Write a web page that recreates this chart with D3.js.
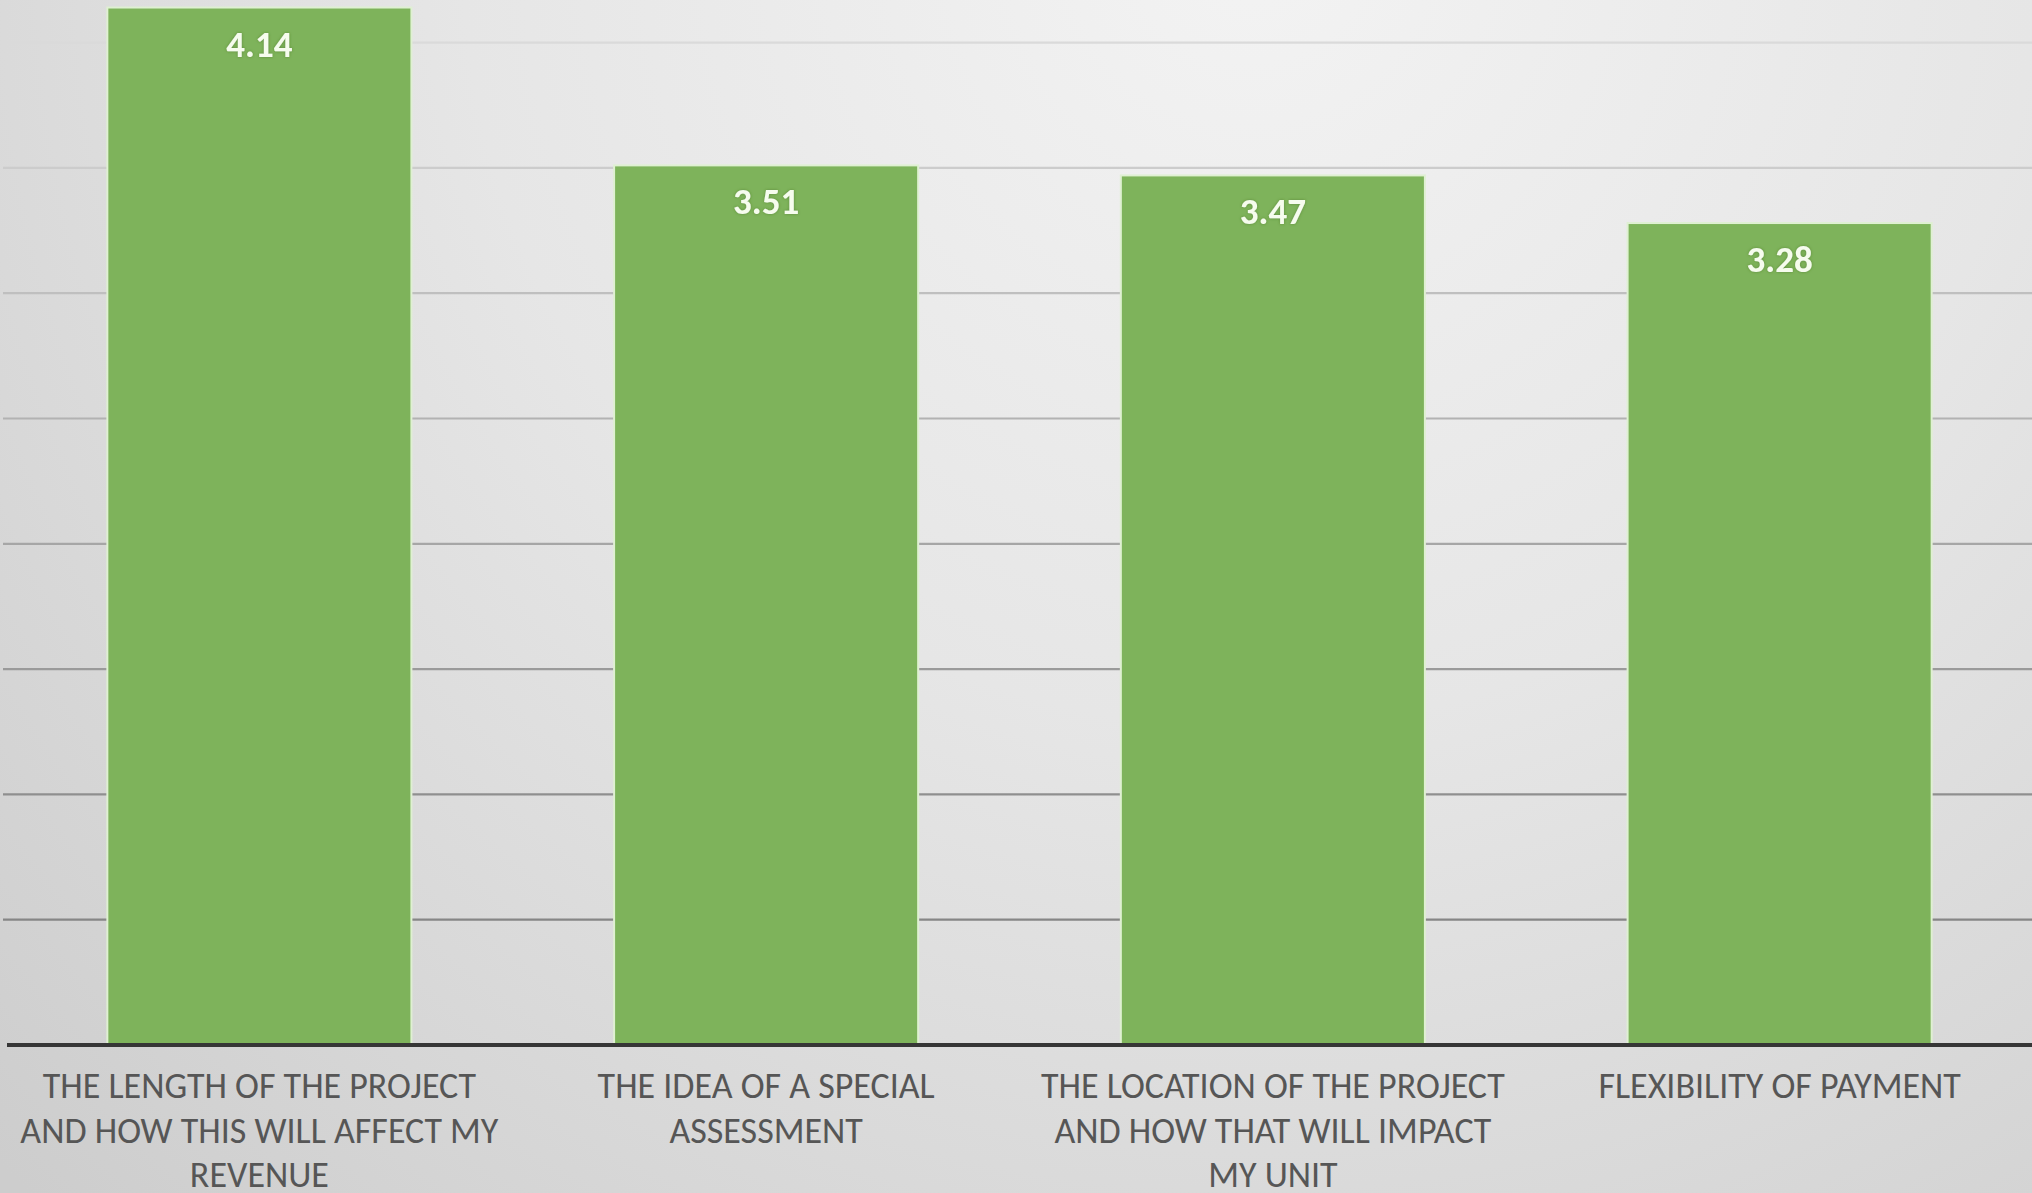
<!DOCTYPE html>
<html>
<head>
<meta charset="utf-8">
<script src="https://cdn.jsdelivr.net/npm/d3@7"></script>
<style>
  html, body { margin: 0; padding: 0; overflow: hidden; background: #dcdcdc; }
  svg { display: block; }
</style>
</head>
<body>
<svg id="chart" width="2032" height="1193"></svg>
<script>
// Survey concerns, mean rating per item
const categories = [
  "THE LENGTH OF THE PROJECT AND HOW THIS WILL AFFECT MY REVENUE",
  "THE IDEA OF A SPECIAL ASSESSMENT",
  "THE LOCATION OF THE PROJECT AND HOW THAT WILL IMPACT MY UNIT",
  "FLEXIBILITY OF PAYMENT"
];
const values = [4.14, 3.51, 3.47, 3.28];
const gridTicks = [0.5, 1, 1.5, 2, 2.5, 3, 3.5, 4];

const W = 2032, H = 1193;
const baseY = 1045;
const labelFont = "Calibri, Carlito, 'Liberation Sans Narrow', 'Open Sans', sans-serif";

const svg = d3.select("#chart");
const defs = svg.append("defs");

// soft studio-style background
const bg = defs.append("radialGradient")
  .attr("id", "bg").attr("gradientUnits", "userSpaceOnUse")
  .attr("cx", 1250).attr("cy", -60).attr("r", 1750);
bg.append("stop").attr("offset", "0%").attr("stop-color", "#f3f3f3");
bg.append("stop").attr("offset", "45%").attr("stop-color", "#e6e6e6");
bg.append("stop").attr("offset", "100%").attr("stop-color", "#cdcdcd");

const glow = defs.append("filter").attr("id", "halo")
  .attr("x", "-20%").attr("y", "-40%").attr("width", "140%").attr("height", "180%");
glow.append("feDropShadow").attr("dx", 0).attr("dy", 0)
  .attr("stdDeviation", 1.6).attr("flood-color", "#3f6b22").attr("flood-opacity", 0.55);

svg.append("rect").attr("width", W).attr("height", H).attr("fill", "url(#bg)");

const x = d3.scaleBand()
  .domain(categories)
  .range([6, 2033])
  .paddingInner(0.4)
  .paddingOuter(0.2);

const y = d3.scaleLinear()
  .domain([0, 4])
  .range([baseY, 42.6]);

// horizontal gridlines, darker near the floor
const gridColor = t => d3.interpolateRgb("#868686", "#dadada")(Math.pow(t, 1.15));
svg.append("g").selectAll("line")
  .data(gridTicks)
  .join("line")
  .attr("x1", 3).attr("x2", W)
  .attr("y1", d => y(d)).attr("y2", d => y(d))
  .attr("stroke", d => gridColor((d - 0.5) / 3.5))
  .attr("stroke-width", 2.2);

// bars
svg.append("g").selectAll("rect")
  .data(values)
  .join("rect")
  .attr("x", (d, i) => x(categories[i]))
  .attr("width", x.bandwidth())
  .attr("y", d => y(d))
  .attr("height", d => baseY - y(d))
  .attr("fill", "#7eb35b")
  .attr("stroke", "#dff0d2")
  .attr("stroke-width", 2);

// value labels inside the top of each bar
svg.append("g").selectAll("text")
  .data(values)
  .join("text")
  .attr("x", (d, i) => x(categories[i]) + x.bandwidth() / 2)
  .attr("y", d => y(d) + 49)
  .attr("text-anchor", "middle")
  .attr("font-family", labelFont)
  .attr("font-weight", "bold")
  .attr("font-size", 37)
  .attr("fill", "#f6fcee")
  .attr("filter", "url(#halo)")
  .text(d => d.toFixed(2));

// category axis along the floor
const axis = svg.append("g").attr("transform", `translate(0,${baseY})`)
  .call(d3.axisBottom(x).tickSize(0).tickPadding(0));
axis.select(".domain").remove();
svg.append("line")
  .attr("x1", 7).attr("x2", W)
  .attr("y1", baseY).attr("y2", baseY)
  .attr("stroke", "#363636").attr("stroke-width", 4);

// wrap tick labels to the label box width
const maxWidth = 493;
axis.selectAll(".tick text").each(function(d) {
  const t = d3.select(this);
  t.text(null)
    .attr("font-family", labelFont)
    .attr("font-size", 36)
    .attr("fill", "#565656")
    .attr("text-anchor", "middle")
    .attr("y", 0).attr("dy", null);
  const words = d.split(" ");
  let lines = [], line = [];
  const probe = t.append("tspan");
  words.forEach(w => {
    const test = line.concat(w).join(" ");
    probe.text(test);
    if (probe.node().getComputedTextLength() > maxWidth && line.length) {
      lines.push(line.join(" "));
      line = [w];
    } else {
      line.push(w);
    }
  });
  lines.push(line.join(" "));
  probe.remove();
  lines.forEach((l, i) => {
    t.append("tspan").attr("x", 0).attr("y", 53 + i * 44.5).text(l);
  });
});
</script>
</body>
</html>
